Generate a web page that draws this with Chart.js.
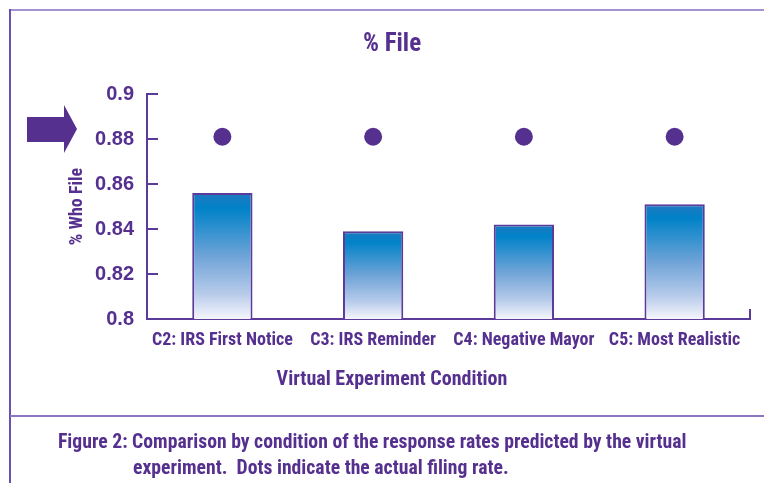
<!DOCTYPE html>
<html>
<head>
<meta charset="utf-8">
<script src="https://cdn.jsdelivr.net/npm/chart.js@4.4.1/dist/chart.umd.min.js"></script>
<style>
  body { margin: 0; background: #fff; }
  #wrap { position: relative; width: 764px; height: 483px; overflow: hidden; font-family: "Roboto Condensed", sans-serif; font-weight: bold; color: #55308f; }
  #chart { position: absolute; left: 0; top: 0; }
  .line { position: absolute; }
  #arrow { position: absolute; left: 27px; top: 105px; width: 50px; height: 48px; background: #55308f;
    clip-path: polygon(0 12px, 37px 12px, 37px 0, 50px 24px, 37px 48px, 37px 37px, 0 37px); }
  .cap { position: absolute; font-size: 19.7px; line-height: 22px; white-space: nowrap; }
</style>
</head>
<body>
<div id="wrap">
  <canvas id="chart" width="764" height="483"></canvas>
  <div class="line" style="left:10px; top:9px; width:754px; height:2px; background:#a592cf"></div>
  <div class="line" style="left:9px; top:9px; width:2px; height:474px; background:#6a50b5"></div>
  <div class="line" style="left:10px; top:415px; width:754px; height:2px; background:#8b75c3"></div>
  <div id="arrow"></div>
  <div class="cap" style="left:58px; top:431px">Figure 2: Comparison by condition of the response rates predicted by the virtual</div>
  <div class="cap" style="left:133px; top:457px">experiment.&nbsp; Dots indicate the actual filing rate.</div>
</div>
<script>
const conditions = ['C2: IRS First Notice', 'C3: IRS Reminder', 'C4: Negative Mayor', 'C5: Most Realistic'];
const predicted = [0.856, 0.839, 0.842, 0.851];
const actual = [0.881, 0.881, 0.881, 0.881];
const yTicks = ['0.8', '0.82', '0.84', '0.86', '0.88', '0.9'];

const purple = '#55308f';
const axisColor = '#5b3a9a';
const narrow = 'Roboto Condensed';

function barGradient(context) {
  const chart = context.chart;
  if (!chart.chartArea) return '#0082c8';
  const y = chart.scales.y;
  const top = y.getPixelForValue(context.raw);
  const bottom = y.getPixelForValue(y.min);
  const g = chart.ctx.createLinearGradient(0, top, 0, bottom);
  g.addColorStop(0, '#2178bf');
  g.addColorStop(0.12, '#0082c8');
  g.addColorStop(0.5, '#6ea3d7');
  g.addColorStop(0.8, '#b7cbea');
  g.addColorStop(1, '#f6f6fc');
  return g;
}

// inward tick marks on the y axis and the small end tick on the x axis
const innerTicks = {
  id: 'innerTicks',
  afterDraw(chart) {
    const ctx = chart.ctx;
    const y = chart.scales.y;
    const area = chart.chartArea;
    ctx.save();
    ctx.strokeStyle = axisColor;
    ctx.lineWidth = 2;
    y.ticks.forEach(t => {
      const py = y.getPixelForValue(t.value);
      ctx.beginPath();
      ctx.moveTo(area.left, py);
      ctx.lineTo(area.left + 11, py);
      ctx.stroke();
    });
    ctx.beginPath();
    ctx.moveTo(area.right, area.bottom);
    ctx.lineTo(area.right, area.bottom - 10);
    ctx.stroke();
    ctx.restore();
  }
};

new Chart(document.getElementById('chart'), {
  type: 'bar',
  data: {
    labels: conditions,
    datasets: [{
      type: 'line',
      label: 'Actual',
      data: actual,
      showLine: false,
      pointRadius: 9,
      pointHoverRadius: 9,
      pointBackgroundColor: purple,
      pointBorderWidth: 0,
      order: 0
    }, {
      label: 'Predicted',
      data: predicted,
      backgroundColor: barGradient,
      borderColor: axisColor,
      borderWidth: 2,
      borderSkipped: false,
      barPercentage: 0.4,
      categoryPercentage: 1,
      order: 1
    }]
  },
  options: {
    responsive: false,
    animation: false,
    layout: { padding: { left: 34, right: 14, top: 0, bottom: 91 } },
    plugins: {
      legend: { display: false },
      tooltip: { enabled: false },
      title: {
        display: true,
        text: '% File',
        color: purple,
        font: { family: narrow, size: 25, weight: 'bold', lineHeight: 1.2 },
        padding: { top: 30, bottom: 34 }
      },
      subtitle: {
        display: true,
        position: 'bottom',
        text: 'Virtual Experiment Condition',
        color: purple,
        font: { family: narrow, size: 20, weight: 'bold', lineHeight: 1.2 },
        padding: { top: 16, bottom: 0 }
      }
    },
    scales: {
      x: {
        grid: { display: false, drawTicks: false },
        border: { color: axisColor, width: 2 },
        ticks: {
          color: purple, padding: 11, maxRotation: 0, autoSkip: false,
          font: { family: narrow, size: 18, weight: 'bold', lineHeight: 1.2 }
        },
        afterFit: s => { s.height = 33; }
      },
      y: {
        min: 0.8,
        max: 0.9,
        grid: { display: false, drawTicks: false },
        border: { color: axisColor, width: 2 },
        ticks: {
          stepSize: 0.02,
          color: purple,
          padding: 13,
          font: { family: 'Liberation Sans', size: 20, weight: 'bold', lineHeight: 1.2 },
          callback: (v, i) => yTicks[i]
        },
        title: {
          display: true,
          text: '% Who File',
          color: purple,
          font: { family: narrow, size: 18, weight: 'bold', lineHeight: 1.2 },
          padding: { top: 33, bottom: 6 }
        },
        afterFit: s => { s.width = 113; }
      }
    }
  },
  plugins: [innerTicks]
});
</script>
</body>
</html>
